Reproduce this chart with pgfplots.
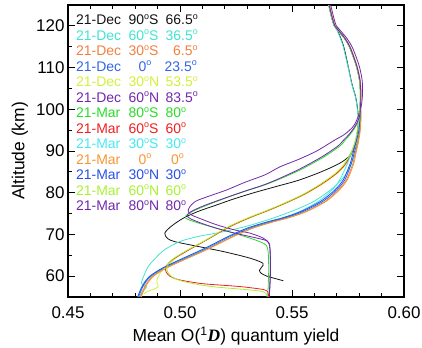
\documentclass[border=0pt]{standalone}
\usepackage{fontspec}
\setmainfont{Liberation Sans}
\newfontfamily\serifD{Liberation Serif}
\usepackage{pgfplots}
\pgfplotsset{compat=1.18}
\definecolor{c1}{RGB}{20,20,20}
\definecolor{c2}{RGB}{64,228,208}
\definecolor{c3}{RGB}{240,128,64}
\definecolor{c4}{RGB}{50,100,230}
\definecolor{c5}{RGB}{210,240,60}
\definecolor{c6}{RGB}{112,40,170}
\definecolor{c7}{RGB}{40,220,40}
\definecolor{c8}{RGB}{240,30,30}
\definecolor{c9}{RGB}{70,232,240}
\definecolor{c10}{RGB}{245,150,50}
\definecolor{c11}{RGB}{40,80,230}
\definecolor{c12}{RGB}{170,240,50}
\definecolor{c13}{RGB}{112,40,170}
\begin{document}
\begin{tikzpicture}
\begin{axis}[
  scale only axis, width=336bp, height=292bp,
  xmin=0.45, xmax=0.60, ymin=55, ymax=125,
  xtick={0.45,0.50,0.55,0.60}, ytick={60,70,80,90,100,110,120},
  minor x tick num=4, minor y tick num=1,
  xtick pos=both, ytick pos=both,
  xticklabel pos=lower, yticklabel pos=left,
  tick align=inside, major tick length=7bp, minor tick length=4bp,
  axis line style={line width=1.3pt},
  every tick/.style={black, line width=1pt},
  /pgf/number format/assume math mode=true,
  xticklabel style={yshift=-6bp, /pgf/number format/.cd, fixed, fixed zerofill, precision=2},
  ticklabel style={font=\fontsize{17}{20}\selectfont},
  xlabel={Mean O(\textsuperscript{1}{\serifD\bfseries\itshape D}) quantum yield},
  ylabel={Altitude (km)},
  label style={font=\fontsize{17.5}{21}\selectfont},
  xlabel style={at={(axis description cs:0.5,-0.134)}, anchor=center},
  ylabel style={at={(axis description cs:-0.143,0.5)}, anchor=center},
  every axis plot/.append style={line width=0.8pt, smooth, tension=0.5},
]
% 21-Dec 90S
\addplot[c1] coordinates {(0.5665,125) (0.5678,122) (0.5690,120) (0.5702,119) (0.5718,117) (0.5731,115) (0.5744,112) (0.5752,110) (0.5768,106) (0.5784,103) (0.5793,100) (0.5796,98) (0.5793,95) (0.5782,92) (0.5759,89) (0.5714,87.1) (0.5630,85) (0.5530,83) (0.5430,81.5) (0.5330,80) (0.5240,78.5) (0.5160,77) (0.5080,75.5) (0.5015,73.9) (0.4962,72) (0.4932,70.3) (0.4945,69) (0.4975,68.3) (0.5045,67.5) (0.5193,65.9) (0.5313,64.3) (0.5370,63.1) (0.5365,62.2) (0.5355,61.4) (0.5362,60.7) (0.5388,60.0) (0.5420,59.5) (0.5461,58.9)};
% 21-Dec 60S
\addplot[c2] coordinates {(0.5663,125) (0.5676,122) (0.5688,120) (0.5700,119) (0.5716,117) (0.5729,115) (0.5742,112) (0.5751,110) (0.5767,106) (0.5783,103) (0.5792,100) (0.5797,97) (0.5800,95) (0.5795,92) (0.5785,90) (0.5765,87) (0.5735,84) (0.5680,81) (0.5600,78) (0.5520,76) (0.5420,74) (0.5300,72) (0.5180,70.5) (0.5080,69.5) (0.5000,68.3) (0.4930,66.3) (0.4885,64) (0.4858,62.3) (0.4838,60) (0.4828,58.5) (0.4832,57.8) (0.4850,57.5) (0.4845,57.0) (0.4828,56) (0.4820,55)};
% 21-Dec 30S
\addplot[c3] coordinates {(0.5667,125) (0.5680,122) (0.5692,120) (0.5707,119) (0.5737,117) (0.5759,115) (0.5780,112) (0.5792,110) (0.5804,107) (0.5808,104) (0.5807,101) (0.5807,98) (0.5803,95) (0.5795,92.6) (0.5785,90) (0.5772,87) (0.5762,85.5) (0.5742,83) (0.5708,80.7) (0.5650,78) (0.5562,75.5) (0.5482,74) (0.5412,73) (0.5322,71.5) (0.5235,69.5) (0.5160,67.5) (0.5098,65.9) (0.5018,64) (0.4938,62) (0.4878,60) (0.4848,58) (0.4830,56) (0.4825,55)};
% 21-Dec 0
\addplot[c4] coordinates {(0.5665,125) (0.5678,122) (0.5690,120) (0.5705,119) (0.5735,117) (0.5757,115) (0.5778,112) (0.5790,110) (0.5802,107) (0.5806,104) (0.5805,101) (0.5806,98) (0.5802,95) (0.5792,92.6) (0.5780,90) (0.5765,87) (0.5755,85.5) (0.5735,83) (0.5700,80.7) (0.5640,78) (0.5550,75.5) (0.5470,74) (0.5400,73) (0.5310,71.5) (0.5223,69.5) (0.5150,67.5) (0.5089,65.9) (0.5010,64) (0.4930,62) (0.4870,60) (0.4840,58) (0.4822,56) (0.4815,55)};
% 21-Dec 30N
\addplot[c5] coordinates {(0.5666,125) (0.5679,122) (0.5691,120) (0.5706,119) (0.5736,117) (0.5758,115) (0.5779,112) (0.5791,110) (0.5803,107) (0.5807,104) (0.5806,101) (0.5808,98) (0.5800,95) (0.5788,92) (0.5777,90.3) (0.5743,87) (0.5703,84.7) (0.5633,82) (0.5553,79.5) (0.5473,77.5) (0.5403,75.9) (0.5313,74) (0.5226,71.9) (0.5130,69) (0.5045,66.5) (0.4985,64.5) (0.4945,62.5) (0.4915,61) (0.4900,59.5) (0.4897,58.5) (0.4903,57.5) (0.4880,56.8) (0.4852,56.3) (0.4840,55.8)};
% 21-Dec 60N
\addplot[c6] coordinates {(0.5673,125) (0.5686,122) (0.5698,120) (0.5714,119) (0.5745,117) (0.5768,115) (0.5790,112) (0.5802,110) (0.5813,107) (0.5815,104) (0.5810,101) (0.5797,98.5) (0.5775,96) (0.5735,94) (0.5690,92.6) (0.5610,90) (0.5530,88) (0.5446,86.2) (0.5380,84.3) (0.5290,82.5) (0.5210,80.7) (0.5120,79) (0.5068,77.9) (0.5042,76.5) (0.5037,75.5) (0.5050,74.7) (0.5090,73.8) (0.5164,72.3) (0.5250,71.0) (0.5313,70.3) (0.5372,69.1) (0.5395,68) (0.5402,66.5) (0.5404,62) (0.5402,58) (0.5398,55)};
% 21-Mar 80S
\addplot[c7] coordinates {(0.5664,125) (0.5677,122) (0.5689,120) (0.5704,119) (0.5734,117) (0.5756,115) (0.5777,112) (0.5789,110) (0.5801,107) (0.5805,104) (0.5804,101) (0.5800,98) (0.5785,96) (0.5760,94) (0.5737,92.6) (0.5714,91.2) (0.5640,88.5) (0.5530,85.3) (0.5400,82.3) (0.5300,80.5) (0.5223,79.1) (0.5120,77) (0.5055,75.5) (0.5024,74.3) (0.5035,73.6) (0.5090,72.6) (0.5164,71.5) (0.5240,70.3) (0.5313,69.1) (0.5375,67.8) (0.5392,66.5) (0.5396,62) (0.5394,58) (0.5392,55)};
% 21-Mar 60S
\addplot[c8] coordinates {(0.5665,125) (0.5678,122) (0.5690,120) (0.5705,119) (0.5735,117) (0.5757,115) (0.5778,112) (0.5790,110) (0.5802,107) (0.5806,104) (0.5805,101) (0.5805,98) (0.5797,95) (0.5785,92) (0.5774,90.3) (0.5740,87) (0.5700,84.7) (0.5630,82) (0.5550,79.5) (0.5470,77.5) (0.5400,75.9) (0.5310,74) (0.5223,71.9) (0.5119,68.7) (0.5030,66) (0.4968,64) (0.4937,62.3) (0.4938,61) (0.4955,60) (0.4990,59.2) (0.5060,58.5) (0.5119,58.1) (0.5268,57.5) (0.5370,56.8) (0.5392,56.2) (0.5395,55)};
% 21-Mar 30S
\addplot[c9] coordinates {(0.5664,125) (0.5677,122) (0.5689,120) (0.5704,119) (0.5734,117) (0.5756,115) (0.5777,112) (0.5789,110) (0.5801,107) (0.5805,104) (0.5804,101) (0.5804,98) (0.5798,95) (0.5785,92.6) (0.5768,90) (0.5748,87) (0.5735,85.5) (0.5712,83) (0.5680,80.7) (0.5620,78) (0.5535,75.5) (0.5458,74) (0.5390,73) (0.5302,71.5) (0.5218,69.5) (0.5145,67.5) (0.5084,65.9) (0.5005,64) (0.4925,62) (0.4865,60) (0.4835,58) (0.4818,56) (0.4812,55)};
% 21-Mar 0
\addplot[c10] coordinates {(0.5667,125) (0.5680,122) (0.5692,120) (0.5707,119) (0.5737,117) (0.5759,115) (0.5780,112) (0.5792,110) (0.5804,107) (0.5808,104) (0.5807,101) (0.5808,98) (0.5805,95) (0.5798,92.6) (0.5788,90) (0.5776,87) (0.5766,85.5) (0.5746,83) (0.5712,80.7) (0.5654,78) (0.5566,75.5) (0.5486,74) (0.5416,73) (0.5326,71.5) (0.5239,69.5) (0.5164,67.5) (0.5102,65.9) (0.5022,64) (0.4942,62) (0.4882,60) (0.4852,58) (0.4834,56) (0.4828,55)};
% 21-Mar 30N
\addplot[c11] coordinates {(0.5665,125) (0.5678,122) (0.5690,120) (0.5705,119) (0.5735,117) (0.5757,115) (0.5778,112) (0.5790,110) (0.5802,107) (0.5806,104) (0.5805,101) (0.5803,98) (0.5799,95) (0.5788,92.6) (0.5775,90) (0.5760,87) (0.5749,85.5) (0.5728,83) (0.5692,80.7) (0.5630,78) (0.5540,75.5) (0.5460,74) (0.5390,73) (0.5300,71.5) (0.5215,69.5) (0.5142,67.5) (0.5080,65.9) (0.5002,64) (0.4924,62) (0.4866,60) (0.4836,58) (0.4818,56) (0.4812,55)};
% 21-Mar 60N
\addplot[c12] coordinates {(0.5664,125) (0.5677,122) (0.5689,120) (0.5704,119) (0.5734,117) (0.5756,115) (0.5777,112) (0.5789,110) (0.5801,107) (0.5805,104) (0.5804,101) (0.5800,98) (0.5792,95) (0.5780,92) (0.5769,90.3) (0.5735,87) (0.5695,84.7) (0.5625,82) (0.5545,79.5) (0.5465,77.5) (0.5395,75.9) (0.5305,74) (0.5218,71.9) (0.5110,68.5) (0.5025,66) (0.4965,64) (0.4942,62.5) (0.4945,61) (0.4965,59.8) (0.5010,58.8) (0.5080,58.0) (0.5160,57.4) (0.5268,56.9) (0.5360,56.4) (0.5385,55.8) (0.5388,55)};
% 21-Mar 80N
\addplot[c13] coordinates {(0.5666,125) (0.5679,122) (0.5691,120) (0.5706,119) (0.5736,117) (0.5758,115) (0.5779,112) (0.5791,110) (0.5803,107) (0.5807,104) (0.5806,101) (0.5800,98) (0.5782,96) (0.5755,94) (0.5730,92.6) (0.5705,91.2) (0.5630,88.5) (0.5520,85.3) (0.5390,82.2) (0.5290,80.4) (0.5215,79.0) (0.5112,77) (0.5050,75.5) (0.5032,74.6) (0.5045,73.8) (0.5100,72.6) (0.5180,71.2) (0.5270,70.0) (0.5345,69.1) (0.5390,68.4) (0.5401,67) (0.5403,62) (0.5401,58) (0.5398,55)};
\end{axis}
\begin{scope}[every node/.style={anchor=base west, inner sep=0pt, font=\fontsize{14}{16}\selectfont}]
\def\dg{\raisebox{0.42em}{\fontsize{9}{9}\selectfont o}}
\node[text=c1] at (8bp,272bp) {21-Dec}; \node[text=c1] at (60.3bp,272bp) {90\dg S}; \node[text=c1] at (97.5bp,272bp) {66.5\dg};
\node[text=c2] at (8bp,256.5bp) {21-Dec}; \node[text=c2] at (60.3bp,256.5bp) {60\dg S}; \node[text=c2] at (97.5bp,256.5bp) {36.5\dg};
\node[text=c3] at (8bp,241bp) {21-Dec}; \node[text=c3] at (60.3bp,241bp) {30\dg S}; \node[text=c3] at (105bp,241bp) {6.5\dg};
\node[text=c4] at (8bp,225.5bp) {21-Dec}; \node[text=c4] at (70.3bp,225.5bp) {0\dg}; \node[text=c4] at (96.5bp,225.5bp) {23.5\dg};
\node[text=c5] at (8bp,210bp) {21-Dec}; \node[text=c5] at (60.3bp,210bp) {30\dg N}; \node[text=c5] at (97.5bp,210bp) {53.5\dg};
\node[text=c6] at (8bp,194.5bp) {21-Dec}; \node[text=c6] at (60.3bp,194.5bp) {60\dg N}; \node[text=c6] at (97.5bp,194.5bp) {83.5\dg};
\node[text=c7] at (8bp,179bp) {21-Mar}; \node[text=c7] at (60.3bp,179bp) {80\dg S}; \node[text=c7] at (97.5bp,179bp) {80\dg};
\node[text=c8] at (8bp,163.5bp) {21-Mar}; \node[text=c8] at (60.3bp,163.5bp) {60\dg S}; \node[text=c8] at (97.5bp,163.5bp) {60\dg};
\node[text=c9] at (8bp,148bp) {21-Mar}; \node[text=c9] at (60.3bp,148bp) {30\dg S}; \node[text=c9] at (97.5bp,148bp) {30\dg};
\node[text=c10] at (8bp,132.5bp) {21-Mar}; \node[text=c10] at (70.3bp,132.5bp) {0\dg}; \node[text=c10] at (103bp,132.5bp) {0\dg};
\node[text=c11] at (8bp,117bp) {21-Mar}; \node[text=c11] at (60.3bp,117bp) {30\dg N}; \node[text=c11] at (97.5bp,117bp) {30\dg};
\node[text=c12] at (8bp,101.5bp) {21-Mar}; \node[text=c12] at (60.3bp,101.5bp) {60\dg N}; \node[text=c12] at (97.5bp,101.5bp) {60\dg};
\node[text=c13] at (8bp,86bp) {21-Mar}; \node[text=c13] at (60.3bp,86bp) {80\dg N}; \node[text=c13] at (97.5bp,86bp) {80\dg};
\end{scope}
\pgfresetboundingbox
\useasboundingbox (-68bp,-51bp) rectangle (354bp,297bp);
\end{tikzpicture}
\end{document}
